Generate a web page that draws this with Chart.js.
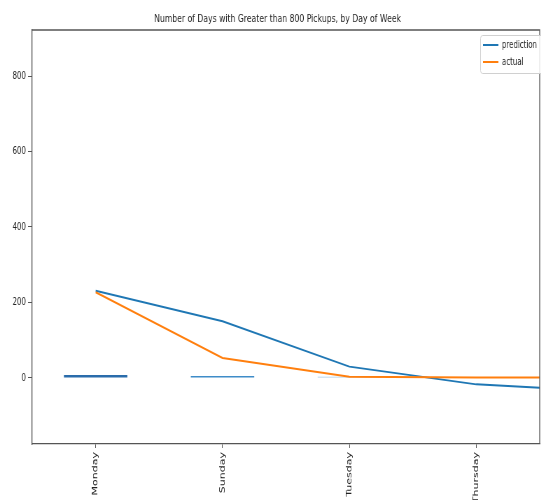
<!DOCTYPE html>
<html>
<head>
<meta charset="utf-8">
<script src="https://cdn.jsdelivr.net/npm/chart.js@4.4.1/dist/chart.umd.min.js"></script>
<style>
  html, body { margin: 0; padding: 0; background: #fff; overflow: hidden; }
  /* figure is drawn wide and squeezed horizontally */
  #wrap { width: 773px; height: 500px; position: relative; transform: scaleX(0.7); transform-origin: 0 0; }
</style>
</head>
<body>
<div id="wrap"><canvas id="chart"></canvas></div>
<script>
// days in the order they were plotted (last one falls past the right spine)
const days = ['Monday', 'Sunday', 'Tuesday', 'Thursday', 'Wednesday'];
const prediction = [231, 150, 30, -17, -35];
const actual = [227, 53, 3, 1, 2];
const barValues = [8, 5, 3];
const barColors = ['#2a6cab', '#3f8cc8', '#a9c9e6'];
const yTicks = [0, 200, 400, 600, 800];
const xTicks = [0, 1, 2, 3];

const FONT = "'DejaVu Sans', sans-serif";
const TITLE = 'Number of Days with Greater than 800 Pickups, by Day of Week';

// title over the plot area, top/right spines + boxed legend
const framePlugin = {
  id: 'frame',
  afterDatasetsDraw(chart) {
    const { ctx, chartArea: a } = chart;
    ctx.save();
    ctx.fillStyle = '#222';
    ctx.font = '11px ' + FONT;
    ctx.textAlign = 'center';
    ctx.textBaseline = 'middle';
    ctx.fillText(TITLE, (a.left + a.right) / 2 - 12, 19);

    ctx.strokeStyle = '#555';
    ctx.lineWidth = 1.3;
    ctx.beginPath();
    ctx.moveTo(a.left, a.top); ctx.lineTo(a.right, a.top); ctx.lineTo(a.right, a.bottom);
    ctx.stroke();

    // legend
    const x0 = 686, y0 = 35, w = 110, h = 38;
    ctx.fillStyle = 'rgba(255,255,255,0.85)';
    ctx.strokeStyle = '#d0d0d0';
    ctx.lineWidth = 1;
    ctx.beginPath();
    ctx.roundRect(x0 + 0.5, y0 + 0.5, w, h, 3);
    ctx.fill(); ctx.stroke();
    ctx.font = '10px ' + FONT;
    ctx.textAlign = 'left';
    const items = chart.data.datasets.filter(d => d.type === 'line');
    items.forEach((d, i) => {
      const y = y0 + 10 + i * 17;
      ctx.strokeStyle = d.borderColor;
      ctx.lineWidth = 2;
      ctx.beginPath(); ctx.moveTo(x0 + 4, y); ctx.lineTo(x0 + 26, y); ctx.stroke();
      ctx.fillStyle = '#222';
      ctx.fillText(d.label, x0 + 31, y);
    });
    ctx.restore();
  }
};

new Chart(document.getElementById('chart'), {
  type: 'line',
  data: {
    datasets: [
      {
        type: 'line', label: 'prediction',
        data: prediction.map((v, i) => ({ x: i, y: v })),
        borderColor: '#1f77b4', borderWidth: 2, pointRadius: 0, tension: 0, order: 2
      },
      {
        type: 'line', label: 'actual',
        data: actual.map((v, i) => ({ x: i, y: v })),
        borderColor: '#ff7f0e', borderWidth: 2, pointRadius: 0, tension: 0, order: 1
      },
      {
        type: 'bar', label: 'count',
        data: barValues.map((v, i) => ({ x: i, y: v })),
        backgroundColor: barColors, borderWidth: 0,
        categoryPercentage: 1, barPercentage: 0.5, order: 3
      }
    ]
  },
  options: {
    responsive: true, maintainAspectRatio: false,
    animation: false,
    layout: { padding: { left: 0, right: 2, top: 30, bottom: 0 } },
    plugins: {
      legend: { display: false },
      tooltip: { enabled: false },
      title: { display: false }
    },
    scales: {
      x: {
        type: 'linear', min: -0.5, max: 3.5, offset: false,
        afterBuildTicks: s => { s.ticks = xTicks.map(v => ({ value: v })); },
        afterFit: s => { s.height = 56; },
        grid: { offset: false, drawOnChartArea: false, drawTicks: true, tickLength: 4, color: '#555' },
        border: { color: '#555', width: 1.3 },
        ticks: {
          autoSkip: false, minRotation: 90, maxRotation: 90, padding: 4,
          color: '#222', font: { family: FONT, size: 11 },
          callback: v => days[v]
        }
      },
      y: {
        min: -175, max: 922,
        afterBuildTicks: s => { s.ticks = yTicks.map(v => ({ value: v })); },
        afterFit: s => { s.width = 46; },
        grid: { drawOnChartArea: false, drawTicks: true, tickLength: 6, color: '#555' },
        border: { color: '#555', width: 1.3 },
        ticks: { padding: 3, color: '#222', font: { family: FONT, size: 10 } }
      }
    }
  },
  plugins: [framePlugin]
});
</script>
</body>
</html>
